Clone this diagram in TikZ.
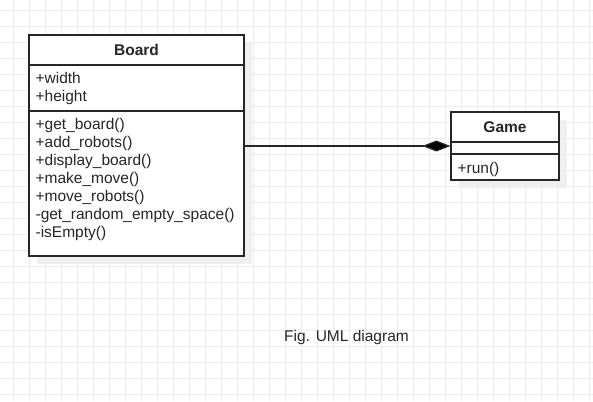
\documentclass[tikz,border=0pt]{standalone}
\usepackage{fontspec}
\setmainfont{Liberation Sans}
\usetikzlibrary{arrows.meta,shadows}

\definecolor{gridgray}{HTML}{EDEDED}
\definecolor{shadowgray}{HTML}{EFEFEF}
\definecolor{inkgray}{HTML}{262626}

\begin{document}
\begin{tikzpicture}[x=1pt, y=-1pt,
    font=\fontsize{15.5}{18}\selectfont, text=inkgray,
    classpart/.style={draw=black!85, line width=1.2pt, fill=white, inner sep=0pt,
        drop shadow={shadow xshift=8pt, shadow yshift=-8pt, fill=shadowgray, opacity=1}},
    members/.style={anchor=north west, align=left, inner xsep=7pt, inner ysep=7.5pt},
    composition/.style={draw=black!85, line width=1.2pt, -{Diamond[length=28pt, width=11pt, fill=black]}}]
    \useasboundingbox (0,0) rectangle (593,401);

    % Background grid
    \foreach \gx in {13,29,...,589} \draw[gridgray, line width=0.8pt] (\gx,0) -- (\gx,401);
    \foreach \gy in {10,26,...,394} \draw[gridgray, line width=0.8pt] (0,\gy) -- (593,\gy);

    % Class Board
    \node[classpart, minimum width=215, minimum height=30] (boardhead) at (136.5, 50) {\textbf{Board}};
    \node[classpart, minimum width=215, minimum height=46] (boardattr) at (136.5, 88) {};
    \node[members] (boardattrtext) at (boardattr.north west) {+width\\+height};
    \node[classpart, minimum width=215, minimum height=145] (boardops) at (136.5, 183.5) {};
    \node[members] (boardopstext) at (boardops.north west)
        {+get\_board()\\+add\_robots()\\+display\_board()\\+make\_move()\\+move\_robots()\\-get\_random\_empty\_space()\\-isEmpty()};

    % Class Game
    \node[classpart, minimum width=108, minimum height=30] (gamehead) at (505, 127) {\textbf{Game}};
    \node[classpart, minimum width=108, minimum height=12] (gameattr) at (505, 148) {};
    \node[classpart, minimum width=108, minimum height=26] (gameops) at (505, 167) {};
    \node[members, inner ysep=9pt] (gameopstext) at (gameops.north west) {+run()};

    % Composition
    \coordinate (gamein) at (gameattr.west |- 0,146);
    \draw[composition] (boardops.east |- gamein) -- (gamein);

    % Caption
    \node (caption) at (346.5, 337) {Fig. UML diagram};
\end{tikzpicture}
\end{document}
